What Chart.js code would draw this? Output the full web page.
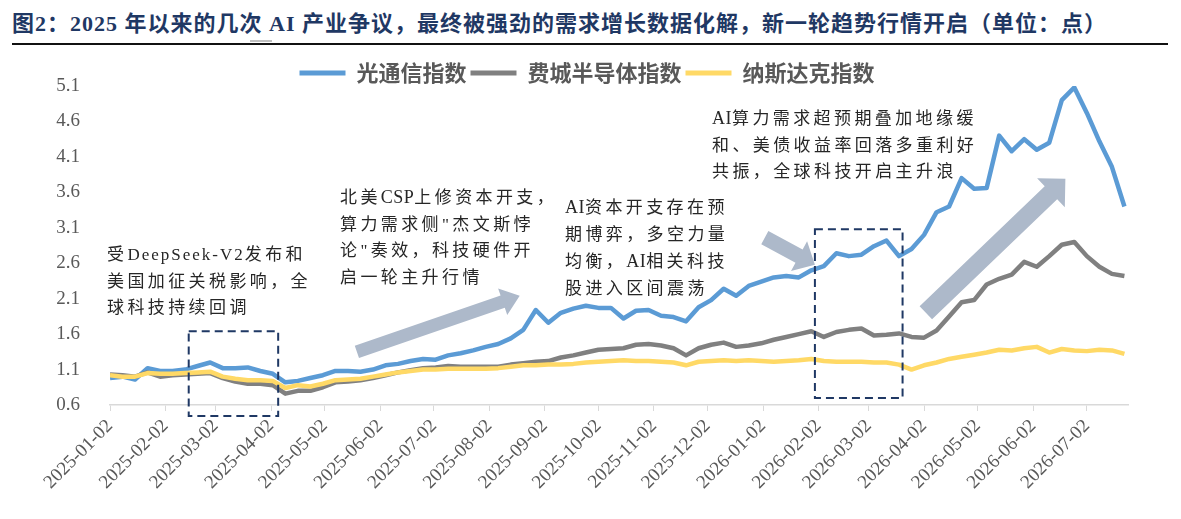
<!DOCTYPE html>
<html>
<head>
<meta charset="utf-8">
<script src="https://cdn.jsdelivr.net/npm/chart.js@4.4.1/dist/chart.umd.min.js"></script>
<style>
  body { margin: 0; width: 1181px; height: 519px; background: #fff; position: relative; overflow: hidden;
         font-family: "Liberation Serif", "Noto Sans CJK SC", serif; }
  #title { position: absolute; left: 12px; top: 5px; font-size: 22px; letter-spacing: 1px; font-weight: bold; color: #1f3864; white-space: nowrap; }
  #rule { position: absolute; left: 12px; top: 43px; width: 1156px; height: 2px; background: #111; }
  #dash { position: absolute; left: 250px; top: 40px; width: 22px; height: 2px; background: #c0c0c0; }
  #wrap { position: absolute; left: 0; top: 48px; width: 1181px; height: 471px; }
  .note { position: absolute; font-size: 17px; line-height: 26.5px; letter-spacing: 3.4px; color: #262626; white-space: nowrap; }
  .note b { font-weight: normal; letter-spacing: 0.5px; font-size: 18px; }
  .note i { font-style: normal; letter-spacing: 2px; }
</style>
</head>
<body>
<div id="title">图2：2025 年以来的几次 AI 产业争议，最终被强劲的需求增长数据化解，新一轮趋势行情开启（单位：点）</div>
<div id="dash"></div>
<div id="rule"></div>
<div id="wrap"><canvas id="chart"></canvas></div>
<div class="note" style="left:107px;top:242px;">受<i>DeepSeek-V2</i>发布和<br>美国加征关税影响，全<br>球科技持续回调</div>
<div class="note" style="left:340px;top:184px;">北美<b>CSP</b>上修资本开支，<br>算力需求侧"杰文斯悖<br>论"奏效，科技硬件开<br>启一轮主升行情</div>
<div class="note" style="left:565px;top:194px;"><b>AI</b>资本开支存在预<br>期博弈，多空力量<br>均衡，<b>AI</b>相关科技<br>股进入区间震荡</div>
<div class="note" style="left:712px;top:105px;"><b>AI</b>算力需求超预期叠加地缘缓<br>和、美债收益率回落多重利好<br>共振，全球科技开启主升浪</div>
<script>
// weekly readings starting 2025-01-02
const opticalIdx = [0.98, 1.00, 0.96, 1.12, 1.08, 1.08, 1.10, 1.15, 1.20, 1.12,
  1.12, 1.13, 1.08, 1.04, 0.92, 0.94, 0.98, 1.02, 1.08, 1.08,
  1.07, 1.10, 1.16, 1.18, 1.22, 1.25, 1.24, 1.30, 1.33, 1.37,
  1.42, 1.46, 1.54, 1.66, 1.94, 1.76, 1.90, 1.96, 2.00, 1.97,
  1.97, 1.82, 1.93, 1.94, 1.86, 1.84, 1.78, 1.98, 2.08, 2.24,
  2.14, 2.28, 2.34, 2.40, 2.42, 2.40, 2.50, 2.56, 2.74, 2.70,
  2.72, 2.84, 2.92, 2.70, 2.80, 3.00, 3.32, 3.40, 3.80, 3.65,
  3.66, 4.40, 4.18, 4.35, 4.20, 4.30, 4.90, 5.08, 4.72, 4.32,
  3.96, 3.40];
const soxIdx = [1.03, 1.02, 1.00, 1.06, 1.00, 1.02, 1.03, 1.04, 1.05, 0.98,
  0.93, 0.90, 0.90, 0.88, 0.76, 0.80, 0.80, 0.85, 0.92, 0.93,
  0.95, 0.98, 1.02, 1.06, 1.09, 1.12, 1.13, 1.15, 1.14, 1.14,
  1.14, 1.14, 1.17, 1.19, 1.21, 1.22, 1.27, 1.30, 1.34, 1.38,
  1.39, 1.40, 1.45, 1.46, 1.44, 1.40, 1.30, 1.40, 1.45, 1.48,
  1.42, 1.44, 1.47, 1.52, 1.56, 1.60, 1.64, 1.56, 1.63, 1.66,
  1.68, 1.58, 1.59, 1.61, 1.56, 1.55, 1.65, 1.85, 2.05, 2.08,
  2.30, 2.38, 2.44, 2.62, 2.55, 2.70, 2.86, 2.90, 2.70, 2.55,
  2.45, 2.42];
const nasdaqIdx = [1.02, 1.00, 1.00, 1.05, 1.04, 1.04, 1.05, 1.06, 1.07, 1.00,
  0.97, 0.95, 0.95, 0.94, 0.84, 0.88, 0.86, 0.90, 0.95, 0.96,
  0.97, 1.00, 1.03, 1.06, 1.08, 1.10, 1.10, 1.11, 1.11, 1.11,
  1.11, 1.12, 1.14, 1.16, 1.16, 1.17, 1.17, 1.18, 1.20, 1.21,
  1.22, 1.23, 1.22, 1.22, 1.21, 1.20, 1.16, 1.21, 1.22, 1.23,
  1.22, 1.23, 1.22, 1.21, 1.22, 1.23, 1.25, 1.22, 1.21, 1.21,
  1.21, 1.20, 1.20, 1.17, 1.10, 1.16, 1.20, 1.25, 1.28, 1.31,
  1.34, 1.38, 1.37, 1.40, 1.42, 1.34, 1.39, 1.37, 1.36, 1.38,
  1.37, 1.32];
const seriesNames = ['光通信指数', '费城半导体指数', '纳斯达克指数'];
const tickDates = ['2025-01-02', '2025-02-02', '2025-03-02', '2025-04-02', '2025-05-02', '2025-06-02',
  '2025-07-02', '2025-08-02', '2025-09-02', '2025-10-02', '2025-11-02', '2025-12-02',
  '2026-01-02', '2026-02-02', '2026-03-02', '2026-04-02', '2026-05-02', '2026-06-02', '2026-07-02'];
const yTicks = [0.6, 1.1, 1.6, 2.1, 2.6, 3.1, 3.6, 4.1, 4.6, 5.1];

const dayOf = s => { const [y, m, d] = s.split('-').map(Number); return (Date.UTC(y, m - 1, d) - Date.UTC(2025, 0, 2)) / 86400000; };
const weekDays = opticalIdx.map((_, i) => i * 7);
const toPts = arr => arr.map((v, i) => ({ x: weekDays[i], y: v }));

// annotations (date, value)
const boxes = [
  { from: '2025-02-15', to: '2025-04-06', top: 1.64, bottom: 0.445 },
  { from: '2026-01-31', to: '2026-03-21', top: 3.08, bottom: 0.70 }
];
const arrows = [
  { tail: ['2025-05-20', 1.35], tip: ['2025-08-19', 2.14], w: 13, hw: 28, hl: 18 },
  { tail: ['2026-01-03', 2.96], tip: ['2026-01-31', 2.58], w: 15, hw: 34, hl: 18 },
  { tail: ['2026-04-03', 1.90], tip: ['2026-06-20', 3.79], w: 18, hw: 40, hl: 20 }
];

const notesPlugin = {
  id: 'notes',
  beforeInit(chart) {
    const fit = chart.legend.fit;
    chart.legend.fit = function () { fit.call(this); this.height -= 8; };
  },
  afterDatasetsDraw(chart) {
    const { ctx, scales: { x, y } } = chart;
    ctx.save();
    ctx.fillStyle = '#adb9ca';
    arrows.forEach(a => {
      const x0 = x.getPixelForValue(dayOf(a.tail[0])), y0 = y.getPixelForValue(a.tail[1]);
      const x1 = x.getPixelForValue(dayOf(a.tip[0])), y1 = y.getPixelForValue(a.tip[1]);
      const len = Math.hypot(x1 - x0, y1 - y0);
      const ux = (x1 - x0) / len, uy = (y1 - y0) / len, nx = -uy, ny = ux;
      const bx = x1 - ux * a.hl, by = y1 - uy * a.hl;
      ctx.beginPath();
      ctx.moveTo(x0 + nx * a.w / 2, y0 + ny * a.w / 2);
      ctx.lineTo(bx + nx * a.w / 2, by + ny * a.w / 2);
      ctx.lineTo(bx + nx * a.hw / 2, by + ny * a.hw / 2);
      ctx.lineTo(x1, y1);
      ctx.lineTo(bx - nx * a.hw / 2, by - ny * a.hw / 2);
      ctx.lineTo(bx - nx * a.w / 2, by - ny * a.w / 2);
      ctx.lineTo(x0 - nx * a.w / 2, y0 - ny * a.w / 2);
      ctx.closePath();
      ctx.fill();
    });
    ctx.strokeStyle = '#1f3864';
    ctx.lineWidth = 2;
    ctx.setLineDash([8, 5]);
    boxes.forEach(b => {
      const l = x.getPixelForValue(dayOf(b.from)), r = x.getPixelForValue(dayOf(b.to));
      const t = y.getPixelForValue(b.top), btm = y.getPixelForValue(b.bottom);
      ctx.strokeRect(l, t, r - l, btm - t);
    });
    ctx.restore();
  }
};

const tickFont = { family: '"Liberation Serif", serif', size: 19 };

new Chart(document.getElementById('chart'), {
  type: 'line',
  data: {
    datasets: [
      { label: seriesNames[0], data: toPts(opticalIdx), borderColor: '#5b9bd5', backgroundColor: '#5b9bd5', order: 3 },
      { label: seriesNames[1], data: toPts(soxIdx), borderColor: '#808080', backgroundColor: '#808080', order: 2 },
      { label: seriesNames[2], data: toPts(nasdaqIdx), borderColor: '#ffd966', backgroundColor: '#ffd966', order: 1 }
    ]
  },
  options: {
    responsive: true,
    maintainAspectRatio: false,
    animation: false,
    layout: { padding: { top: 10, left: 46, right: 53, bottom: 0 } },
    elements: { point: { radius: 0 }, line: { borderWidth: 4.5, tension: 0, borderJoinStyle: 'round' } },
    plugins: {
      tooltip: { enabled: false },
      legend: {
        labels: {
          boxWidth: 46, boxHeight: 5, padding: 4, color: '#595959',
          font: { family: '"Noto Sans CJK SC", sans-serif', size: 22, weight: 'bold' },
          sort: (a, b) => a.datasetIndex - b.datasetIndex,
          generateLabels(chart) {
            return Chart.defaults.plugins.legend.labels.generateLabels(chart).map(l => ({ ...l, lineWidth: 0 }));
          }
        }
      }
    },
    scales: {
      x: {
        type: 'linear', min: 0, max: 569,
        afterBuildTicks(s) { s.ticks = tickDates.map(d => ({ value: dayOf(d) })); },
        afterFit(s) { s.height = 114; },
        ticks: { autoSkip: false, minRotation: 45, maxRotation: 45, padding: 4, color: '#595959', font: tickFont,
                 callback: (v, i) => tickDates[i] },
        grid: { drawOnChartArea: false, tickLength: 6, color: '#d9d9d9' },
        border: { color: '#d9d9d9', width: 1.5 }
      },
      y: {
        min: 0.6, max: 5.1,
        afterBuildTicks(s) { s.ticks = yTicks.map(v => ({ value: v })); },
        afterFit(s) { s.width = 64; },
        ticks: { padding: 22, color: '#595959', font: tickFont, callback: v => v.toFixed(1) },
        grid: { display: false },
        border: { display: false }
      }
    }
  },
  plugins: [notesPlugin]
});
</script>
</body>
</html>
